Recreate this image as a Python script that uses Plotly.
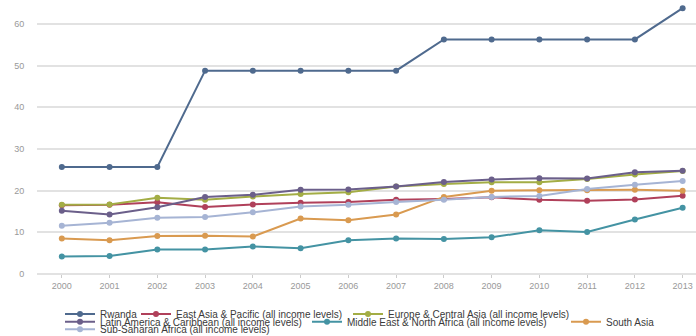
import plotly.graph_objects as go

years = [2000, 2001, 2002, 2003, 2004, 2005, 2006, 2007, 2008, 2009, 2010, 2011, 2012, 2013]
tick_labels = [str(y) for y in years]

rwanda = [25.7, 25.7, 25.7, 48.8, 48.8, 48.8, 48.8, 48.8, 56.3, 56.3, 56.3, 56.3, 56.3, 63.8]
east_asia = [16.5, 16.6, 17.2, 16.1, 16.7, 17.1, 17.3, 17.8, 18.0, 18.4, 17.8, 17.6, 17.9, 18.8]
europe = [16.6, 16.7, 18.3, 17.8, 18.6, 19.2, 19.6, 21.0, 21.6, 22.0, 22.0, 22.8, 23.9, 24.7]
latin = [15.2, 14.3, 16.0, 18.5, 19.0, 20.2, 20.3, 21.0, 22.1, 22.7, 23.0, 22.9, 24.4, 24.8]
mena = [4.2, 4.3, 5.9, 5.9, 6.6, 6.2, 8.1, 8.5, 8.4, 8.8, 10.5, 10.1, 13.1, 15.9]
south_asia = [8.5, 8.1, 9.1, 9.2, 9.0, 13.3, 12.9, 14.3, 18.5, 20.0, 20.1, 20.1, 20.2, 20.0]
ssa = [11.6, 12.3, 13.5, 13.7, 14.8, 16.2, 16.6, 17.3, 17.8, 18.5, 18.7, 20.4, 21.4, 22.3]

names = [
    "Rwanda",
    "East Asia & Pacific (all income levels)",
    "Europe & Central Asia (all income levels)",
    "Latin America & Caribbean (all income levels)",
    "Middle East & North Africa (all income levels)",
    "South Asia",
    "Sub-Saharan Africa (all income levels)",
]
series = [rwanda, east_asia, europe, latin, mena, south_asia, ssa]
colors = ["#4f6a8e", "#b0405a", "#a3ad45", "#6b5f8a", "#4493a3", "#d99a50", "#a6b4d4"]

# legend placement (pixel x of text start, pixel y of row centre)
W, H = 696, 336
legend_pos = [(100, 314), (176, 314), (388, 314), (100, 321.7), (347, 321.7), (606, 321.7), (100, 329.3)]

fig = go.Figure()
for i, (nm, vals, col) in enumerate(zip(names, series, colors)):
    lg = "legend" if i == 0 else f"legend{i+1}"
    fig.add_trace(go.Scatter(
        x=years, y=vals, name=nm, mode="lines+markers",
        line=dict(color=col, width=2),
        marker=dict(color=col, size=6),
        legend=lg,
    ))

layout_legends = {}
for i, (px, py) in enumerate(legend_pos):
    key = "legend" if i == 0 else f"legend{i+1}"
    layout_legends[key] = dict(
        x=(px - 40) / W, y=1 - py / H, xref="container", yref="container",
        xanchor="left", yanchor="middle", orientation="h",
        bgcolor="rgba(0,0,0,0)", borderwidth=0,
        font=dict(family="Liberation Sans, Arial, sans-serif", size=10, color="#3a3a3a"),
        itemwidth=30,
    )

fig.update_layout(
    width=W, height=H,
    margin=dict(l=37, r=0, t=0, b=62),
    plot_bgcolor="white", paper_bgcolor="white",
    showlegend=True,
    xaxis=dict(
        range=[1999.48, 2013.28], tickmode="array", tickvals=years, ticktext=tick_labels,
        showgrid=False, zeroline=False, showline=False, automargin=False,
        ticks="outside", ticklen=3, tickcolor="#cccccc",
        tickfont=dict(family="Liberation Sans, Arial, sans-serif", size=9, color="#999999"),
    ),
    yaxis=dict(
        range=[0, 65.75], tickvals=[0, 10, 20, 30, 40, 50, 60], automargin=False,
        showgrid=True, gridcolor="#e2e2e2", gridwidth=1.5,
        zeroline=True, zerolinecolor="#e2e2e2", zerolinewidth=1.5,
        ticks="outside", ticklen=10, tickcolor="rgba(0,0,0,0)",
        tickfont=dict(family="Liberation Sans, Arial, sans-serif", size=9, color="#999999"),
    ),
    **layout_legends,
)

fig.write_html("out.html", config={"displayModeBar": False},
               post_script="document.body.style.margin='0px';")
